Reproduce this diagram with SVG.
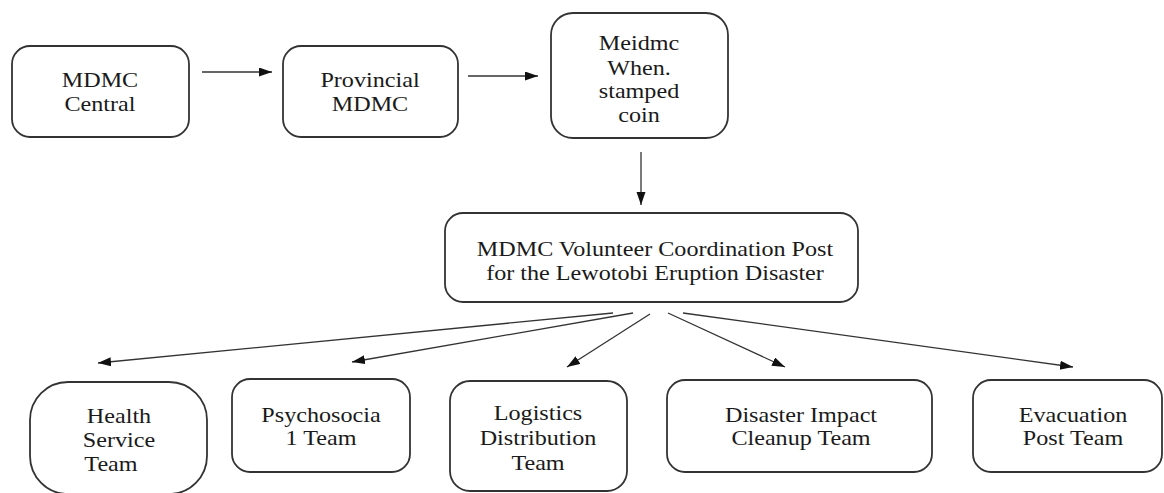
<svg xmlns="http://www.w3.org/2000/svg" width="1164" height="493" viewBox="0 0 1164 493">
<style>
.box{fill:#fff;stroke:#333;stroke-width:1.8}
text{font-family:"Times New Roman",Times,"Liberation Serif","Noto Serif","DejaVu Serif",FreeSerif,serif;font-size:21px;fill:#1a1a1a;text-anchor:middle}
.edge{stroke:#333;stroke-width:1.3;fill:none;marker-end:url(#ah)}
</style>
<defs>
<marker id="ah" markerUnits="userSpaceOnUse" markerWidth="14" markerHeight="10" refX="13" refY="4.5" orient="auto">
<path d="M0,0 L13,4.5 L0,9 z" fill="#111"/>
</marker>
</defs>
<rect width="1164" height="493" fill="#fff"/>
<g id="connectors">
<line class="edge" x1="202" y1="72" x2="272" y2="72"/>
<line class="edge" x1="468" y1="76" x2="538" y2="76"/>
<line class="edge" x1="641" y1="152" x2="641" y2="205"/>
<line class="edge" x1="613" y1="313" x2="98" y2="363"/>
<line class="edge" x1="633" y1="313" x2="352" y2="362"/>
<line class="edge" x1="650" y1="314" x2="567" y2="367"/>
<line class="edge" x1="668" y1="313" x2="785" y2="367"/>
<line class="edge" x1="683" y1="313" x2="1073" y2="367"/>
</g>
<g id="mdmc-central">
<rect class="box" x="12" y="46" width="177" height="91" rx="18"/>
<text transform="translate(100,0) scale(1.15,1)"><tspan x="0" y="87">MDMC</tspan><tspan x="0" y="111">Central</tspan></text>
</g>
<g id="provincial-mdmc">
<rect class="box" x="283" y="46" width="175" height="91" rx="18"/>
<text transform="translate(370,0) scale(1.15,1)"><tspan x="0" y="87">Provincial</tspan><tspan x="0" y="111">MDMC</tspan></text>
</g>
<g id="meidmc">
<rect class="box" x="551" y="13" width="177" height="125" rx="22"/>
<text transform="translate(639,0) scale(1.15,1)"><tspan x="0" y="50">Meidmc</tspan><tspan x="0" y="75">When.</tspan><tspan x="0" y="98">stamped</tspan><tspan x="0" y="122">coin</tspan></text>
</g>
<g id="coordination-post">
<rect class="box" x="445" y="213" width="413" height="89" rx="18"/>
<text transform="translate(655,0) scale(1.15,1)"><tspan x="0" y="256">MDMC Volunteer Coordination Post</tspan><tspan x="0" y="280">for the Lewotobi Eruption Disaster</tspan></text>
</g>
<g id="health-service">
<rect class="box" x="30" y="382" width="177" height="112" rx="38"/>
<text transform="translate(119,0) scale(1.15,1)"><tspan x="0" y="423">Health</tspan><tspan x="0" y="447">Service</tspan><tspan x="-7" y="471">Team</tspan></text>
</g>
<g id="psychosocial">
<rect class="box" x="232" y="379" width="178" height="93" rx="18"/>
<text transform="translate(321,0) scale(1.15,1)"><tspan x="0" y="422">Psychosocia</tspan><tspan x="0" y="445">1 Team</tspan></text>
</g>
<g id="logistics">
<rect class="box" x="450" y="381" width="177" height="110" rx="20"/>
<text transform="translate(538,0) scale(1.15,1)"><tspan x="0" y="420">Logistics</tspan><tspan x="0" y="445">Distribution</tspan><tspan x="0" y="470">Team</tspan></text>
</g>
<g id="disaster-cleanup">
<rect class="box" x="667" y="380" width="265" height="92" rx="18"/>
<text transform="translate(801,0) scale(1.15,1)"><tspan x="0" y="422">Disaster Impact</tspan><tspan x="0" y="445">Cleanup Team</tspan></text>
</g>
<g id="evacuation-post">
<rect class="box" x="973" y="380" width="189" height="92" rx="18"/>
<text transform="translate(1073,0) scale(1.15,1)"><tspan x="0" y="422">Evacuation</tspan><tspan x="0" y="445">Post Team</tspan></text>
</g>
</svg>
